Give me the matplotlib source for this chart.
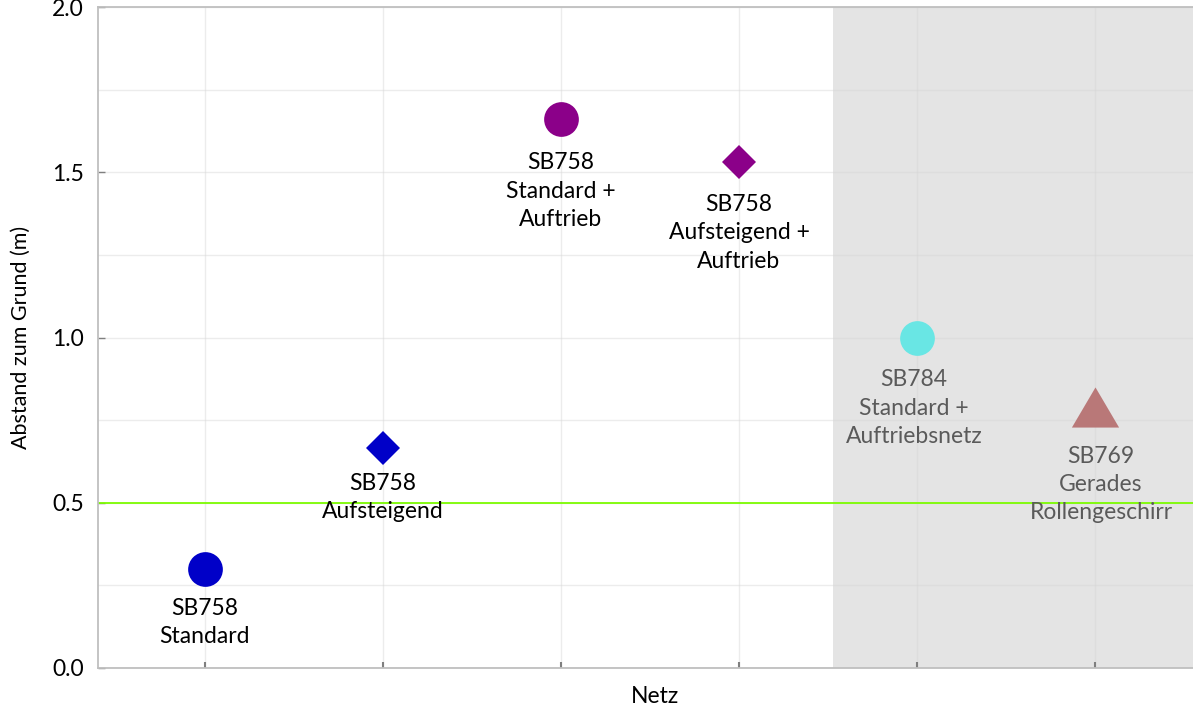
import matplotlib
matplotlib.use("Agg")
import matplotlib.pyplot as plt
import numpy as np

# ---- data ----
categories = [1, 2, 3, 4, 5, 6]
values = [0.30, 0.665, 1.66, 1.53, 1.00, 0.79]
labels = ["SB758\nStandard", "SB758\nAufsteigend", "SB758\nStandard +\nAuftrieb",
          "SB758\nAufsteigend +\nAuftrieb", "SB784\nStandard +\nAuftriebsnetz",
          "SB769\nGerades\nRollengeschirr"]
markers = ["o", "D", "o", "D", "o", [(-1, -0.85), (1, -0.85), (0, 0.85)]]
msizes = [25, 17.5, 25, 17.5, 25, 34]
colors = ["#0000C8", "#0000C8", "#8B0089", "#8B0089", "#69E6E4", "#B97878"]
text_colors = ["#000000"] * 4 + ["#5A5A5A"] * 2
label_offsets_px = [(0, 29), (0, 25), (0, 33), (0, 32), (-3, 32), (6, 39)]
threshold = 0.5
shade_start = 4.53
yticks = [0.0, 0.5, 1.0, 1.5, 2.0]

plt.rcParams['font.family'] = ['Lato', 'DejaVu Sans']
FS = 16.5

W, H = 1193, 706
fig = plt.figure(figsize=(W / 100, H / 100), dpi=100)
ax = fig.add_axes([98 / W, (H - 668) / H, (W - 98) / W, (668 - 7) / H])

xmin, xmax = 0.40, 6.55
ax.set_xlim(xmin, xmax)
ax.set_ylim(0, 2.0)

ax.axvspan(shade_start, xmax, color="#E4E4E4", zorder=0, lw=0)

ax.set_xticks(categories)
ax.set_xticklabels([])
ax.set_yticks(yticks)
ax.set_yticklabels([f"{v:.1f}" for v in yticks], fontsize=FS)
ax.set_yticks(np.arange(0.25, 2.0, 0.5), minor=True)
ax.grid(True, which="both", color="#D6D6D6", lw=1, alpha=0.45, zorder=0.5)
ax.set_axisbelow(True)
ax.tick_params(axis="both", which="major", direction="in", length=5, width=1, color="#7F7F7F", pad=10)
ax.tick_params(axis="y", which="minor", length=0)
ax.tick_params(axis="x", which="major", length=4, width=1.5)

for s in ["left", "bottom", "top"]:
    ax.spines[s].set_color("#BFBFBF")
    ax.spines[s].set_linewidth(1.3)
ax.spines["right"].set_visible(False)

ax.axhline(threshold, color="#7CFC00", lw=1.3, zorder=2)

for x, y, m, ms, c, lab, tc, off in zip(categories, values, markers, msizes, colors,
                                         labels, text_colors, label_offsets_px):
    ax.plot([x], [y], marker=m, ms=ms, color=c, mec=c, mew=0, ls="none", zorder=3)
    ax.annotate(lab, (x, y), xytext=(off[0] * 0.72, -off[1] * 0.72), textcoords="offset points",
                ha="center", va="top", fontsize=FS, color=tc, linespacing=1.42, zorder=4)

ax.set_ylabel("Abstand zum Grund (m)", fontsize=15.5)
ax.yaxis.set_label_coords(-0.0705, 0.5)
ax.yaxis.label.set_verticalalignment("center")
ax.set_xlabel("Netz", fontsize=FS)
ax.xaxis.set_label_coords((655 - 98) / (W - 98), -0.027)
ax.xaxis.label.set_verticalalignment("top")

fig.savefig("out.png", dpi=100)
